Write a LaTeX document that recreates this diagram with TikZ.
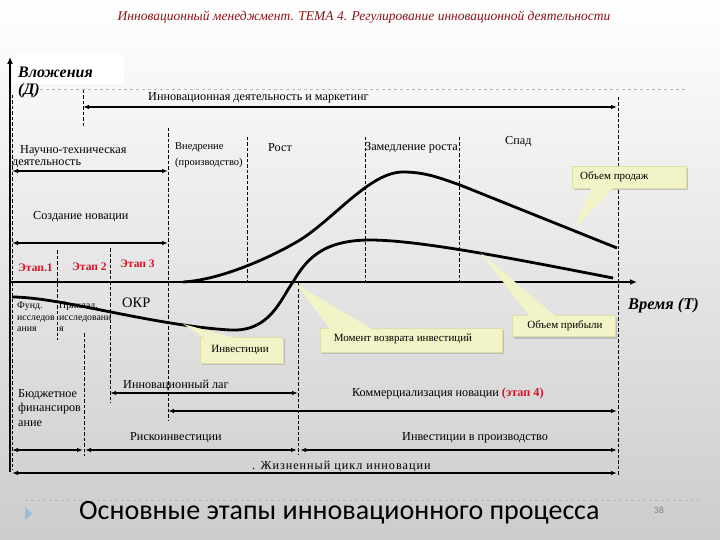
\documentclass[tikz,border=0pt]{standalone}
\usepackage{fontspec}
\setmainfont{Liberation Serif}
\newfontfamily\carl{Carlito}
\newfontfamily\spaced[LetterSpace=8]{Liberation Serif}
\usetikzlibrary{arrows.meta,shadows}
\definecolor{titlered}{RGB}{140,20,25}
\definecolor{stagered}{RGB}{215,20,40}
\definecolor{callfill}{RGB}{243,243,200}
\definecolor{calldraw}{RGB}{222,222,170}
\definecolor{sepgray}{RGB}{185,185,185}
\definecolor{tri}{RGB}{150,190,225}
\tikzset{
  vline/.style={line width=0.7pt, dash pattern=on 3.5pt off 2pt},
  dbl/.style={{Latex[length=6pt,width=4.5pt]}-{Latex[length=6pt,width=4.5pt]}, line width=1.7pt},
  axisline/.style={-{Latex[length=7pt,width=6pt]}, line width=2.8pt},
  curve/.style={line width=2.8pt},
  txt/.style={inner sep=0pt, anchor=west, font=\fontsize{12.2}{14}\selectfont},
  small/.style={inner sep=0pt, anchor=west, font=\fontsize{10.5}{12}\selectfont},
  stage/.style={inner sep=0pt, anchor=west, text=stagered, font=\bfseries\fontsize{11.5}{13}\selectfont},
  callbox/.style={fill=callfill, draw=calldraw, line width=0.6pt, drop shadow={shadow xshift=2pt, shadow yshift=-2pt, fill=black!35, opacity=0.6}},
  callptr/.style={fill=callfill, draw=none},
  calltxt/.style={inner sep=0pt, font=\fontsize{11}{13}\selectfont},
}
\begin{document}
\begin{tikzpicture}[x=1pt,y=-1pt]
\shade[top color=white, bottom color=black!20] (0,0) rectangle (720,540);
\useasboundingbox (0,0) rectangle (720,540);
% separators
\draw[sepgray, dashed, line width=0.5pt] (40,89) -- (688,89);
\draw[sepgray, dashed, line width=0.5pt] (25,500) -- (700,500);
\fill[white] (12,55) rectangle (124,84);
% title
\node[inner sep=0pt, text=titlered, font=\itshape\fontsize{13.5}{15}\selectfont] (title) at (364,17) {Инновационный менеджмент. ТЕМА 4. Регулирование инновационной деятельности};

% coordinates
\coordinate (yb) at (10,472); \coordinate (yt) at (10,57);
\coordinate (xl) at (10,282); \coordinate (xr) at (637,282);

% dashed verticals
\draw[vline] (12,95) -- (12,470);
\draw[vline] (83,90) -- (83,127);
\draw[vline] (57,250) -- (57,340);
\draw[vline] (84,333) -- (84,456);
\draw[vline] (110,248) -- (110,403);
\draw[vline] (168,128) -- (168,420);
\draw[vline] (247,137) -- (247,282);
\draw[vline] (298,283) -- (298,455);
\draw[vline] (365,137) -- (365,282);
\draw[vline] (459,137) -- (459,282);
\draw[vline] (618,97) -- (618,476);

% axes
\draw[axisline] (yb) -- (yt);
\draw[axisline] (xl) -- (xr);

% horizontal arrows
\coordinate (a1l) at (83,107); \coordinate (a1r) at (617,107);
\coordinate (a2l) at (12,171); \coordinate (a2r) at (168,171);
\coordinate (a3l) at (12,243); \coordinate (a3r) at (168,243);
\coordinate (a4l) at (110,393); \coordinate (a4r) at (298,393);
\coordinate (a5l) at (168,411); \coordinate (a5r) at (617,411);
\coordinate (a6l) at (12,450); \coordinate (a6m1) at (83,450);
\coordinate (a6m2) at (85,450); \coordinate (a6m3) at (297,450);
\coordinate (a6m4) at (300,450); \coordinate (a6r) at (617,450);
\coordinate (a7l) at (12,473); \coordinate (a7r) at (617,473);
\draw[dbl] (a1l) -- (a1r);
\draw[dbl] (a2l) -- (a2r);
\draw[dbl] (a3l) -- (a3r);
\draw[dbl] (a4l) -- (a4r);
\draw[dbl] (a5l) -- (a5r);
\draw[dbl] (a6l) -- (a6m1);
\draw[dbl] (a6m2) -- (a6m3);
\draw[dbl] (a6m4) -- (a6r);
\draw[dbl] (a7l) -- (a7r);

% curves
\draw[curve] (183,282) .. controls (220,280) and (270,258) .. (300,240)
  .. controls (335,218) and (370,172) .. (403,172)
  .. controls (425,172) and (440,178) .. (460,185) -- (617,248);
\draw[curve] (12,297) .. controls (60,297) and (150,325) .. (230,330)
  .. controls (270,332) and (280,300) .. (293,282)
  .. controls (305,262) and (320,240) .. (370,240)
  .. controls (420,240) and (520,260) .. (613,278);

% labels
\node[inner sep=0pt, anchor=west, font=\bfseries\itshape\fontsize{16}{18}\selectfont] (vl1) at (18,72) {Вложения};
\node[inner sep=0pt, anchor=west, font=\bfseries\itshape\fontsize{16}{18}\selectfont] (vl2) at (18,91) {(Д)};
\node[txt] (l1) at (148,98) {Инновационная деятельность и маркетинг};
\node[txt] (l2a) at (20,151) {Научно-техническая};
\node[txt] (l2b) at (12,164) {деятельность};
\node[small] (l3a) at (175,147) {Внедрение};
\node[small] (l3b) at (175,163) {(производство)};
\node[txt] (l4) at (268,148) {Рост};
\node[txt] (l5) at (365,148) {Замедление роста};
\node[txt] (l6) at (505,142) {Спад};
\node[txt] (l7) at (33,217) {Создание новации};
\node[stage] (s1) at (18,268) {Этап.1};
\node[stage] (s2) at (72,267) {Этап 2};
\node[stage] (s3) at (120,264) {Этап 3};
\node[inner sep=0pt, anchor=west, font=\fontsize{14.5}{16}\selectfont] (okr) at (122,303) {ОКР};
\node[inner sep=0pt, anchor=north west, align=left, font=\fontsize{9.8}{11.5}\selectfont] (fund) at (17,302) {Фунд.\\исследов\\ания};
\node[inner sep=0pt, anchor=north west, align=left, font=\fontsize{9.8}{11.5}\selectfont] (prik) at (59,302) {Приклад.\\исследовани\\я};
\node[inner sep=0pt, anchor=west, font=\bfseries\itshape\fontsize{16.4}{18}\selectfont] (time) at (628,306) {Время (Т)};
\node[txt] (l8) at (123,386) {Инновационный лаг};
\node[txt] (l9) at (352,394) {Коммерциализация новации {\color{stagered}\bfseries(этап 4)}};
\node[inner sep=0pt, anchor=north west, align=left, font=\fontsize{12.2}{14.8}\selectfont] (budg) at (18,389) {Бюджетное\\финансиров\\ание};
\node[txt] (l10) at (130,438) {Рискоинвестиции};
\node[txt] (l11) at (402,438) {Инвестиции в производство};
\node[inner sep=0pt, anchor=west, font=\spaced\fontsize{12.2}{14}\selectfont] (l12) at (252,467) {. Жизненный цикл инновации};

% callouts
\node[callbox, minimum width=114pt, minimum height=22pt, inner sep=0pt] (c1) at (629,177) {};
\fill[callptr] (575,228) -- (592,186) -- (615,186) -- cycle;
\node[calltxt, anchor=west] (c1t) at (580,177) {Объем продаж};

\node[callbox, minimum width=103pt, minimum height=21pt, inner sep=0pt] (c2) at (563.5,326) {};
\fill[callptr] (481,253) -- (530,317) -- (556,317) -- cycle;
\node[calltxt] (c2t) at (565,326) {Объем прибыли};

\node[callbox, minimum width=182pt, minimum height=24pt, inner sep=0pt] (c3) at (411,340) {};
\fill[callptr] (296,284) -- (330,329) -- (372,329) -- cycle;
\node[calltxt] (c3t) at (403,339) {Момент возврата инвестиций};

\node[callbox, minimum width=83pt, minimum height=26pt, inner sep=0pt] (c4) at (241.5,350) {};
\fill[callptr] (183,324) -- (205,338) -- (235,338) -- cycle;
\node[calltxt] (c4t) at (240,350) {Инвестиции};

% footer
\fill[tri] (25,507) -- (32,513.5) -- (25,520) -- cycle;
\node[inner sep=0pt, anchor=west, font=\carl\fontsize{28}{32}\selectfont] (foot) at (79,513) {Основные этапы инновационного процесса};
\node[inner sep=0pt, text=black!50, font=\carl\fontsize{9.5}{11}\selectfont] (pg) at (659,510) {38};
\end{tikzpicture}
\end{document}
